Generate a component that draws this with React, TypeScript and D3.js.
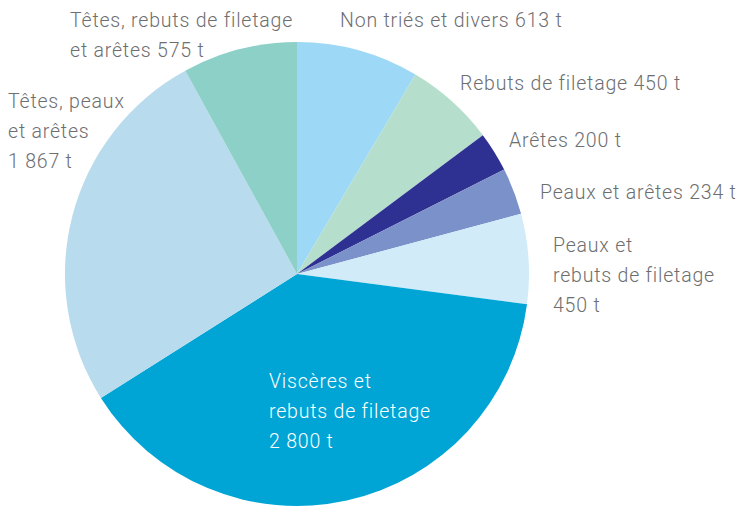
import React from "react";
import * as d3 from "d3";

const categories = [
  "Non triés et divers",
  "Rebuts de filetage",
  "Arêtes",
  "Peaux et arêtes",
  "Peaux et rebuts de filetage",
  "Viscères et rebuts de filetage",
  "Têtes, peaux et arêtes",
  "Têtes, rebuts de filetage et arêtes",
];
const values = [613, 450, 200, 234, 450, 2800, 1867, 575];
const colors = ["#9dd9f6", "#b5dfcc", "#2e3192", "#7a91c9", "#d1ebf9", "#00a5d5", "#b9dbee", "#8dd0c8"];
const labelLines = [
  ["Non triés et divers 613 t"],
  ["Rebuts de filetage 450 t"],
  ["Arêtes 200 t"],
  ["Peaux et arêtes 234 t"],
  ["Peaux et", "rebuts de filetage", "450 t"],
  ["Viscères et", "rebuts de filetage", "2 800 t"],
  ["Têtes, peaux", "et arêtes", "1 867 t"],
  ["Têtes, rebuts de filetage", "et arêtes 575 t"],
];
const labelPos: [number, number][] = [
  [340, 27],
  [460, 90],
  [509, 147],
  [540, 199],
  [553, 252],
  [269, 388],
  [8, 108],
  [70, 27],
];
const labelColors = ["#6d6e70", "#6d6e70", "#6d6e70", "#6d6e70", "#6d6e70", "#ffffff", "#6d6e70", "#6d6e70"];

export default function App() {
  const W = 737, H = 508;
  const cx = 297, cy = 274, r = 232;
  const pie = d3.pie<number>().sort(null).value((d) => d).startAngle(0).endAngle(2 * Math.PI);
  const arcs = pie(values);
  const arc = d3.arc<d3.PieArcDatum<number>>().innerRadius(0).outerRadius(r);
  return (
    <svg width={W} height={H} style={{ position: "absolute", left: 0, top: 0 }}>
      <rect width={W} height={H} fill="#ffffff" />
      <g transform={`translate(${cx},${cy})`}>
        {arcs.map((a, i) => (
          <path key={categories[i]} d={arc(a) || ""} fill={colors[i]} />
        ))}
      </g>
      {labelLines.map((lines, i) => (
        <text
          key={categories[i]}
          x={labelPos[i][0]}
          y={labelPos[i][1]}
          fill={labelColors[i]}
          fontFamily="Roboto, sans-serif"
          fontSize={19.5}
          fontWeight={300}
          letterSpacing={0.8}
        >
          {lines.map((l, j) => (
            <tspan key={j} x={labelPos[i][0]} y={labelPos[i][1] + j * 30}>
              {l}
            </tspan>
          ))}
        </text>
      ))}
    </svg>
  );
}
